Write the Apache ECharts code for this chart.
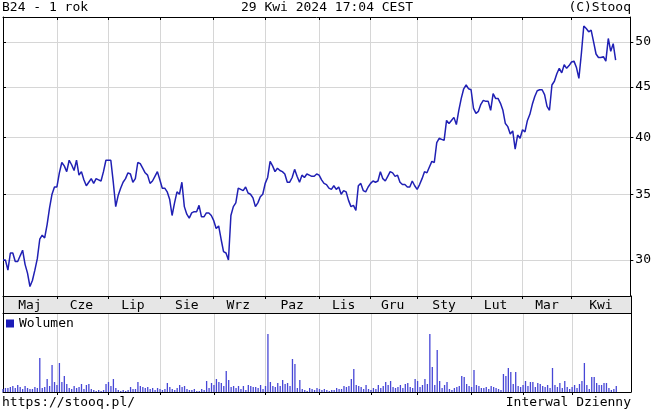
<!DOCTYPE html>
<html><head><meta charset="utf-8">
<script src="https://cdn.jsdelivr.net/npm/echarts@6/dist/echarts.min.js"></script>
<style>html,body{margin:0;padding:0;background:#fff}#c{width:654px;height:412px}</style>
</head><body><div id="c"></div>
<script>
// Daily close, trading days from end of Apr 2023 to 29 Apr 2024
const prices = [
30.0,30.0,29.3,30.5,30.5,29.9,29.9,30.3,30.7,29.7,
29.1,28.2,28.6,29.3,30.1,31.5,31.8,31.6,32.6,33.9,
35.0,35.6,35.6,36.8,37.7,37.4,36.9,37.9,37.5,37.0,
37.9,36.6,36.9,36.2,35.7,36.0,36.3,35.9,36.3,36.2,
36.1,36.9,37.9,37.9,37.9,36.0,34.0,34.9,35.5,36.0,
36.3,36.8,36.7,36.0,36.3,37.7,37.6,37.2,36.8,36.6,
35.9,36.1,36.5,36.9,36.2,35.5,35.5,35.2,34.6,33.3,
34.3,35.2,35.0,36.0,34.0,33.4,33.1,33.5,33.6,33.6,
34.1,33.2,33.2,33.5,33.5,33.3,32.9,32.3,32.5,31.5,
30.6,30.5,30.0,33.3,34.0,34.3,35.5,35.4,35.3,35.6,
35.1,35.0,34.7,34.0,34.3,34.8,35.0,35.9,36.4,37.8,
37.4,36.9,37.2,37.0,36.9,36.7,36.0,36.0,36.4,37.1,
36.5,36.0,36.6,36.4,36.7,36.6,36.5,36.5,36.7,36.6,
36.2,35.9,35.8,35.5,35.4,35.7,35.4,35.6,35.0,35.3,
35.2,34.5,34.0,34.1,33.7,35.7,35.9,35.3,35.2,35.6,
35.9,36.1,36.0,36.1,36.9,36.3,36.1,36.5,36.9,36.8,
36.5,36.6,36.0,35.8,35.8,35.6,35.6,36.1,35.7,35.4,
35.8,36.3,36.9,36.8,37.3,37.8,37.7,39.5,39.9,39.8,
39.7,41.6,41.3,41.6,41.9,41.2,42.6,43.8,44.8,45.2,
44.8,44.7,42.8,42.3,42.5,43.2,43.6,43.5,43.5,42.6,
44.3,43.8,43.8,43.3,42.6,41.3,41.0,40.3,40.6,38.9,
40.2,39.9,40.7,40.5,41.6,42.2,43.2,44.0,44.6,44.7,
44.7,44.2,43.0,42.6,45.2,45.6,46.4,47.0,46.5,47.4,
47.0,47.3,47.7,47.8,47.1,45.9,48.6,51.9,51.6,51.2,
51.4,50.0,48.6,48.2,48.2,48.3,47.8,50.4,48.9,49.8,47.9
];
// Daily volume (relative units)
const volume = [
3,4,4,5,6,4,7,5,3,6,4,3,3,5,4,
34,4,5,13,6,27,10,7,29,10,16,8,4,3,6,
4,5,8,3,7,8,3,2,1,2,1,2,8,10,6,
13,4,2,1,2,1,2,5,3,3,10,6,5,4,5,
3,4,2,4,3,2,3,9,5,3,2,4,7,5,6,
3,2,2,3,1,1,3,2,11,4,9,7,13,10,9,
6,21,12,5,6,4,6,3,6,2,7,6,5,5,4,
7,3,6,58,10,6,5,9,6,12,8,9,6,33,28,
4,12,3,2,1,4,3,2,4,3,2,3,2,1,2,
2,4,3,3,6,5,6,13,23,7,6,5,3,7,3,
2,4,3,7,4,6,10,7,11,5,4,5,7,4,8,
9,5,4,13,11,5,7,13,8,58,25,7,42,11,4,
7,10,3,2,4,5,6,16,15,8,6,5,22,7,6,
4,4,5,3,6,5,4,3,2,18,16,24,20,8,20,
6,5,7,11,6,10,10,5,9,8,6,5,7,4,24,
7,5,9,4,11,5,3,5,7,4,8,11,29,7,3,
15,15,9,7,7,9,9,4,2,3,6
];
const monthNames = ['Maj','Cze','Lip','Sie','Wrz','Paz','Lis','Gru','Sty','Lut','Mar','Kwi'];
const monthStart = [0,22,43,64,86,107,129,150,169,191,212,232]; // trading-day index of month start
const priceTicks = [30,35,40,45,50];
const slotCount = 257; // trading-day slots on the x axis (incl. empty right margin)

const cats = Array.from({length: slotCount}, (_, i) => String(i));
const isStart = new Set(monthStart.filter(i => i > 0));
const labelAt = {};
monthStart.forEach((s, k) => {
  const e = k + 1 < monthStart.length ? monthStart[k + 1] : slotCount - 1;
  labelAt[Math.floor((s + e) / 2)] = monthNames[k];
});
const FONT = 'DejaVu Sans Mono';
const txt = {fontFamily: FONT, fontSize: 13, color: '#000', fontWeight: 'normal'};
const GRID_C = '#d6d6d6';
const startFn = (i) => isStart.has(i);
const blackLine = {show: true, lineStyle: {color: '#000', width: 1}};
const gridBase = {left: 3, right: 23, show: false, containLabel: false};
const off = {axisTick: {show: false}, axisLabel: {show: false}, splitLine: {show: false}};

function xAx(gridIndex, position, extra) {
  return Object.assign({gridIndex, type: 'category', data: cats, boundaryGap: false, position,
    axisLine: blackLine, axisTick: {show: false}, axisLabel: {show: false}, splitLine: {show: false}}, extra || {});
}
function yAx(gridIndex, position, extra) {
  return Object.assign({gridIndex, type: 'value', position, axisLine: blackLine}, off, extra || {});
}

const chart = echarts.init(document.getElementById('c'), null, {renderer: 'canvas'});
chart.setOption({
  animation: false,
  backgroundColor: '#fff',
  title: [
    {text: 'B24 - 1 rok', left: 0, top: 0, padding: [1, 2], textStyle: txt},
    {text: '29 Kwi 2024 17:04 CEST', left: 'center', top: 0, padding: [1, 2], textStyle: txt},
    {text: '(C)Stooq', right: 21, top: 0, padding: [1, 2], textStyle: txt},
    {text: 'https://stooq.pl/', left: 0, top: 395, padding: [1, 2], textStyle: txt},
    {text: 'Interwal Dzienny', right: 21, top: 395, padding: [1, 2], textStyle: txt}
  ],
  legend: {
    data: ['Wolumen'], left: 6, top: 317, padding: 0, itemWidth: 8, itemHeight: 8,
    icon: 'rect', selectedMode: false, textStyle: txt,
    itemStyle: {color: '#1c1cb8'}
  },
  grid: [
    Object.assign({top: 17, height: 279}, gridBase),
    Object.assign({top: 296, height: 17}, gridBase),
    Object.assign({top: 313, height: 79}, gridBase)
  ],
  xAxis: [
    xAx(0, 'bottom', {
      axisTick: {show: true, interval: startFn, length: 3, lineStyle: {color: '#000'}},
      axisLabel: Object.assign({show: true, interval: (i) => labelAt[i] !== undefined,
        formatter: (v, i) => labelAt[i] || '', margin: 3}, txt),
      splitLine: {show: true, interval: startFn, lineStyle: {color: GRID_C, width: 1}}}),
    xAx(0, 'top', {
      axisTick: {show: true, inside: true, interval: startFn, length: 3, lineStyle: {color: '#000'}}}),
    xAx(1, 'bottom'),
    xAx(2, 'bottom', {
      splitLine: {show: true, interval: startFn, lineStyle: {color: GRID_C, width: 1}}}),
    xAx(2, 'top', {axisLine: {show: false},
      axisTick: {show: true, inside: true, interval: startFn, length: 3, lineStyle: {color: '#000'}}})
  ],
  yAxis: [
    yAx(0, 'right', {type: 'log', min: 27.58, max: 53.0,
      axisTick: {show: true, customValues: priceTicks, length: 3, lineStyle: {color: '#000'}},
      axisLabel: Object.assign({show: true, customValues: priceTicks, margin: 5}, txt),
      splitLine: {show: true, lineStyle: {color: GRID_C, width: 1}}}),
    yAx(0, 'left', {type: 'log', min: 27.58, max: 53.0,
      axisTick: {show: true, inside: true, customValues: priceTicks, length: 3, lineStyle: {color: '#000'}}}),
    yAx(1, 'left', {min: 0, max: 1, interval: 1,
      splitArea: {show: true, areaStyle: {color: ['#e6e6e6']}}}),
    yAx(1, 'right', {min: 0, max: 1}),
    yAx(2, 'left', {min: 0, max: 79}),
    yAx(2, 'right', {min: 0, max: 79})
  ],
  series: [
    {type: 'line', name: 'B24', xAxisIndex: 0, yAxisIndex: 0, data: prices, showSymbol: false, symbol: 'none',
     z: 3, silent: true, lineStyle: {color: '#2020b4', width: 1.5}},
    {type: 'bar', name: 'Wolumen', xAxisIndex: 3, yAxisIndex: 4, data: volume, barWidth: 1.3,
     silent: true, itemStyle: {color: '#4646d6'}}
  ]
});
</script>
</body></html>
